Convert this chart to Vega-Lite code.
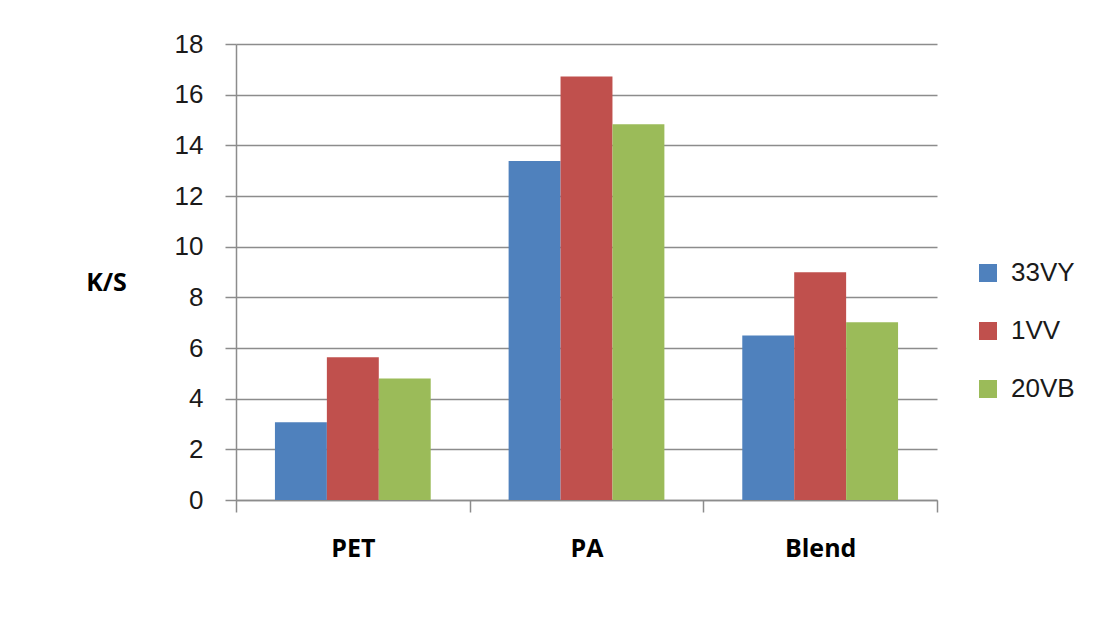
{
  "$schema": "https://vega.github.io/schema/vega-lite/v6.json",
  "width": 701,
  "height": 456,
  "autosize": "none",
  "padding": {"left": 236, "top": 44, "right": 165, "bottom": 142},
  "background": "white",
  "config": {"view": {"stroke": null}, "font": "Liberation Sans"},
  "data": {
    "values": [
      {"material": "PET", "series": "33VY", "ks": 3.07},
      {"material": "PET", "series": "1VV", "ks": 5.63},
      {"material": "PET", "series": "20VB", "ks": 4.8},
      {"material": "PA", "series": "33VY", "ks": 13.38},
      {"material": "PA", "series": "1VV", "ks": 16.72},
      {"material": "PA", "series": "20VB", "ks": 14.83},
      {"material": "Blend", "series": "33VY", "ks": 6.49},
      {"material": "Blend", "series": "1VV", "ks": 8.99},
      {"material": "Blend", "series": "20VB", "ks": 7.02}
    ]
  },
  "mark": {"type": "bar"},
  "encoding": {
    "x": {
      "field": "material",
      "type": "nominal",
      "sort": ["PET", "PA", "Blend"],
      "scale": {"paddingInner": 0, "paddingOuter": 0},
      "axis": {
        "title": null,
        "labelAngle": 0,
        "labelFont": "Open Sans",
        "labelFontWeight": "bold",
        "labelFontSize": 25,
        "labelColor": "#000000",
        "labelPadding": 24,
        "tickBand": "extent",
        "tickSize": 12,
        "tickColor": "#8c8c8c",
        "tickWidth": 1.5,
        "domainColor": "#8c8c8c",
        "domainWidth": 1.5
      }
    },
    "xOffset": {"field": "series", "type": "nominal", "sort": ["33VY", "1VV", "20VB"], "scale": {"paddingInner": 0, "paddingOuter": 0.75}},
    "y": {
      "field": "ks",
      "type": "quantitative",
      "scale": {"domain": [0, 18], "nice": false},
      "axis": {
        "values": [0, 2, 4, 6, 8, 10, 12, 14, 16, 18],
        "title": "K/S",
        "titleAngle": 0,
        "titleFont": "Open Sans",
        "titleFontWeight": "bold",
        "titleFontSize": 25,
        "titleColor": "#000000",
        "titleX": -130,
        "titleY": 238,
        "titleAlign": "center",
        "titleBaseline": "middle",
        "labelFontSize": 26,
        "labelColor": "#1a1a1a",
        "labelPadding": 22,
        "tickSize": 11,
        "tickColor": "#8c8c8c",
        "tickWidth": 1.5,
        "domainColor": "#8c8c8c",
        "domainWidth": 1.5,
        "grid": true,
        "gridColor": "#8c8c8c",
        "gridWidth": 1.5
      }
    },
    "color": {
      "field": "series",
      "type": "nominal",
      "sort": ["33VY", "1VV", "20VB"],
      "scale": {"domain": ["33VY", "1VV", "20VB"], "range": ["#4F81BD", "#C0504D", "#9BBB59"]},
      "legend": {
        "title": null,
        "orient": "none",
        "legendX": 739,
        "legendY": 216,
        "symbolType": "square",
        "symbolSize": 324,
        "symbolStrokeWidth": 0,
        "labelFontSize": 26,
        "labelColor": "#1a1a1a",
        "labelOffset": 10,
        "rowPadding": 32
      }
    }
  }
}
